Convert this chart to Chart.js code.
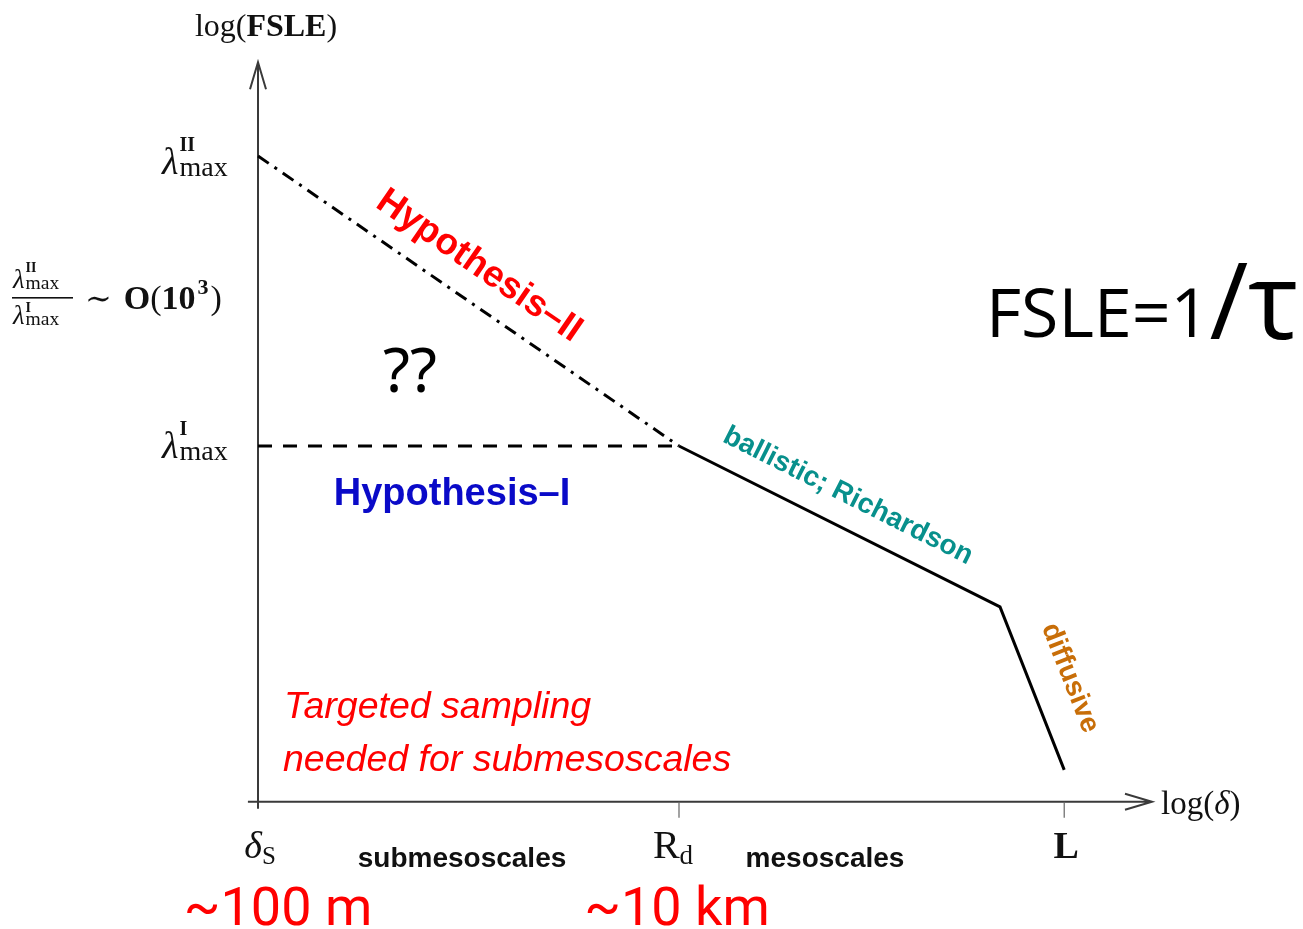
<!DOCTYPE html>
<html>
<head>
<meta charset="utf-8">
<script src="https://cdn.jsdelivr.net/npm/chart.js@4"></script>
<style>
  html, body { margin: 0; padding: 0; background: #fff; }
  #wrap { width: 1303px; height: 929px; }
</style>
</head>
<body>
<div id="wrap"><canvas id="myChart" width="1303" height="929"></canvas></div>
<script>
// x = log(delta), y = log(FSLE) (arbitrary units)
const xTicks = [2, 4, 5.83];          // delta_S, R_d, L
const yTicks = [3, 0];                // lambda_max^II, lambda_max^I
const hyp2X = [2, 4];
const hyp2Y = [3, 0];
const hyp1X = [2, 3.97];
const hyp1Y = [0, 0];
const fsleX = [4, 5.525, 5.83];
const fsleY = [0, -1.665, -3.35];

const toPts = (xs, ys) => xs.map((x, i) => ({ x: x, y: ys[i] }));

const serif = '"Liberation Serif", "DejaVu Serif", serif';
const sans = '"Liberation Sans", Arial, sans-serif';

// draw a run of text pieces with different fonts on one baseline
function rich(ctx, x, y, parts, align) {
  let w = 0;
  parts.forEach(p => { ctx.font = p.f; w += ctx.measureText(p.t).width + (p.gap || 0); });
  let cx = align === "center" ? x - w / 2 : align === "right" ? x - w : x;
  ctx.textAlign = "left";
  ctx.textBaseline = "alphabetic";
  parts.forEach(p => {
    ctx.font = p.f;
    ctx.fillText(p.t, cx, y + (p.dy || 0));
    cx += ctx.measureText(p.t).width + (p.gap || 0);
  });
  return cx;
}

function lambda(ctx, x, y, sup, s, supUp) {
  rich(ctx, x, y, [{ t: "λ", f: "italic " + (38 * s) + "px " + serif }]);
  ctx.font = "italic " + (38 * s) + "px " + serif;
  const w = ctx.measureText("λ").width;
  rich(ctx, x + w + 1, y - (supUp || 23) * s, [{ t: sup, f: "bold " + (20 * s) + "px " + serif }]);
  rich(ctx, x + w + 1, y + 2 * s, [{ t: "max", f: (28 * s) + "px " + serif }]);
}

function rotText(ctx, txt, x, y, ang, font, color) {
  ctx.save();
  ctx.translate(x, y);
  ctx.rotate(ang);
  ctx.font = font;
  ctx.fillStyle = color;
  ctx.textAlign = "center";
  ctx.textBaseline = "middle";
  ctx.fillText(txt, 0, 0);
  ctx.restore();
}

const axesPlugin = {
  id: "axesPlugin",
  beforeDatasetsDraw(chart) {
    const ctx = chart.ctx, sx = chart.scales.x, sy = chart.scales.y;
    const x0 = sx.getPixelForValue(xTicks[0]);
    const yBase = sy.getPixelForValue(-3.68);
    const xEnd = sx.getPixelForValue(6.247);
    const yTop = sy.getPixelForValue(3.97);
    ctx.save();
    ctx.strokeStyle = "#3a3a3a";
    ctx.lineWidth = 2;
    ctx.beginPath();
    ctx.moveTo(sx.getPixelForValue(1.952), yBase);
    ctx.lineTo(xEnd, yBase);
    ctx.moveTo(x0, yBase + 7);
    ctx.lineTo(x0, yTop);
    // arrow heads
    ctx.moveTo(xEnd - 27, yBase - 8);
    ctx.lineTo(xEnd, yBase);
    ctx.lineTo(xEnd - 27, yBase + 8);
    ctx.moveTo(x0 - 8, yTop + 27);
    ctx.lineTo(x0, yTop);
    ctx.lineTo(x0 + 8, yTop + 27);
    ctx.stroke();
    ctx.lineWidth = 1.2;
    ctx.strokeStyle = "#666";
    ctx.beginPath();
    xTicks.slice(1).forEach(v => {
      const px = sx.getPixelForValue(v);
      ctx.moveTo(px, yBase);
      ctx.lineTo(px, yBase + 16);
    });
    ctx.stroke();
    ctx.restore();
  },
  afterDatasetsDraw(chart) {
    const ctx = chart.ctx, sx = chart.scales.x, sy = chart.scales.y;
    ctx.save();
    ctx.fillStyle = "#111";

    // axis titles
    rich(ctx, 266, 36, [
      { t: "log(", f: "32px " + serif },
      { t: "FSLE", f: "bold 32px " + serif },
      { t: ")", f: "32px " + serif }
    ], "center");
    rich(ctx, 1161, 814, [
      { t: "log(", f: "33px " + serif },
      { t: "δ", f: "italic 33px " + serif },
      { t: ")", f: "33px " + serif }
    ]);

    // x tick labels
    const tb = 858;
    let px = sx.getPixelForValue(xTicks[0]);
    rich(ctx, px + 2, tb, [
      { t: "δ", f: "italic 38px " + serif },
      { t: "S", f: "25px " + serif, dy: 6 }
    ], "center");
    px = sx.getPixelForValue(xTicks[1]);
    rich(ctx, px - 6, tb, [
      { t: "R", f: "40px " + serif },
      { t: "d", f: "27px " + serif, dy: 6 }
    ], "center");
    px = sx.getPixelForValue(xTicks[2]);
    rich(ctx, px + 2, tb, [{ t: "L", f: "bold 38px " + serif }], "center");

    // y tick labels
    lambda(ctx, 162, sy.getPixelForValue(yTicks[0]) + 18, "II", 1);
    lambda(ctx, 162, sy.getPixelForValue(yTicks[1]) + 12, "I", 1);

    // ratio lambda^II / lambda^I ~ O(10^3)
    lambda(ctx, 13, 288, "II", 0.7);
    lambda(ctx, 13, 324, "I", 0.7, 17);
    ctx.fillRect(12, 297, 61, 1.6);
    let cx = rich(ctx, 85, 309, [
      { t: "∼", f: "32px " + serif, gap: 12 },
      { t: "O", f: "bold 34px " + serif },
      { t: "(", f: "34px " + serif },
      { t: "10", f: "bold 34px " + serif, gap: 2 }
    ]);
    cx = rich(ctx, cx, 294, [{ t: "3", f: "bold 22px " + serif, gap: 2 }]);
    rich(ctx, cx, 309, [{ t: ")", f: "34px " + serif }]);

    // labels along the curves
    let a = Math.atan2(sy.getPixelForValue(hyp2Y[1]) - sy.getPixelForValue(hyp2Y[0]),
                       sx.getPixelForValue(hyp2X[1]) - sx.getPixelForValue(hyp2X[0]));
    rotText(ctx, "Hypothesis–II", 479, 266, a, "bold 37px " + sans, "#ff0000");
    a = Math.atan2(sy.getPixelForValue(fsleY[1]) - sy.getPixelForValue(fsleY[0]),
                   sx.getPixelForValue(fsleX[1]) - sx.getPixelForValue(fsleX[0]));
    rotText(ctx, "ballistic; Richardson", 848, 496, a, "bold 28px " + sans, "#08908c");
    a = Math.atan2(sy.getPixelForValue(fsleY[2]) - sy.getPixelForValue(fsleY[1]),
                   sx.getPixelForValue(fsleX[2]) - sx.getPixelForValue(fsleX[1]));
    rotText(ctx, "diffusive", 1070, 678, a, "bold 28px " + sans, "#c86e08");

    ctx.fillStyle = "#0a0ac8";
    rich(ctx, 452, 505, [{ t: "Hypothesis–I", f: "bold 38px " + sans }], "center");

    ctx.fillStyle = "#000";
    rich(ctx, 410, 392, [{ t: "??", f: '62px "Noto Sans", sans-serif' }], "center");

    ctx.fillStyle = "#ff0000";
    rich(ctx, 284, 718, [{ t: "Targeted sampling", f: "italic 37.5px " + sans }]);
    rich(ctx, 283, 771, [{ t: "needed for submesoscales", f: "italic 37.5px " + sans }]);

    ctx.fillStyle = "#000";
    rich(ctx, 986, 337, [
      { t: "FSLE=1", f: '68px "Open Sans", sans-serif' },
      { t: "/τ", f: '106px "Open Sans", sans-serif', dy: 2 }
    ]);

    ctx.fillStyle = "#111";
    rich(ctx, 462, 867, [{ t: "submesoscales", f: "bold 28px " + sans }], "center");
    rich(ctx, 825, 867, [{ t: "mesoscales", f: "bold 28px " + sans }], "center");

    ctx.fillStyle = "#ff0000";
    rich(ctx, 278, 925, [{ t: "~100 m", f: '54px Roboto, sans-serif' }], "center");
    rich(ctx, 677, 925, [{ t: "~10 km", f: '54px Roboto, sans-serif' }], "center");
    ctx.restore();
  }
};

const data = {
  datasets: [
    {
      label: "Hypothesis-II",
      data: toPts(hyp2X, hyp2Y),
      borderColor: "#000",
      borderWidth: 3,
      borderDash: [13, 7, 3, 7],
    },
    {
      label: "Hypothesis-I",
      data: toPts(hyp1X, hyp1Y),
      borderColor: "#000",
      borderWidth: 3,
      borderDash: [14, 11],
    },
    {
      label: "FSLE",
      data: toPts(fsleX, fsleY),
      borderColor: "#000",
      borderWidth: 3,
    },
  ],
};

const config = {
  type: "line",
  data: data,
  options: {
    responsive: false,
    animation: false,
    events: [],
    layout: { padding: 0 },
    elements: { point: { radius: 0 }, line: { tension: 0 } },
    scales: {
      x: { type: "linear", min: 0.7743, max: 6.9644, display: false },
      y: { type: "linear", min: -4.9964, max: 4.6137, display: false },
    },
    plugins: {
      legend: { display: false },
      tooltip: { enabled: false },
    },
  },
  plugins: [axesPlugin],
};

const myChart = new Chart(document.getElementById("myChart").getContext("2d"), config);
</script>
</body>
</html>
